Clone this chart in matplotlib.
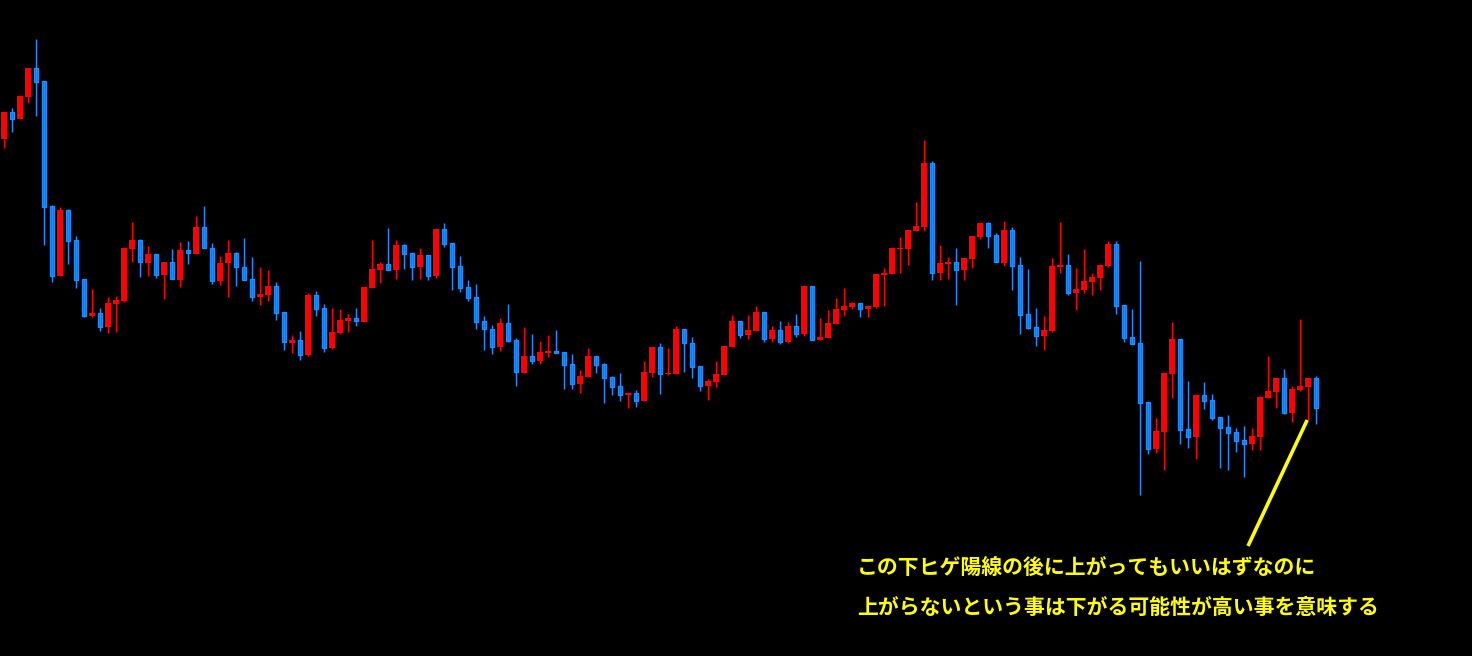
import matplotlib
matplotlib.use("Agg")
import matplotlib.pyplot as plt
import numpy as np

# OHLC levels read off the chart, measured downward from the top edge
# (smaller number = higher price), one candle per bar
opens = [138.7, 112, 119, 96.7, 68, 81, 206, 275.7, 210, 240, 279, 315.7, 313.3, 327.3, 303.7, 301, 248.7, 240.3, 262.7, 254.3,
         274.7, 262, 279.7, 250.3, 253.7, 227, 248.3, 281.3, 263.3, 253, 267, 279, 297.3, 294.7, 286, 312, 342.7, 340, 354.7, 295,
         308, 347.7, 333, 321, 318, 321.7, 287.7, 270, 264.3, 270, 245, 253, 266.7, 255, 275.7, 229, 243, 266, 287, 297,
         321.3, 329.3, 346.7, 323, 340, 372.7, 356, 360.7, 352.7, 351, 352, 364, 383.7, 376.7, 356, 364, 377, 386, 394.7, 393,
         400.7, 372.7, 347, 374, 373.7, 329, 343, 366, 385.7, 381.7, 375, 346.7, 321, 334.7, 330.7, 312, 338.7, 330, 341.7, 326,
         333.7, 286, 339.7, 337.7, 323.7, 310, 307, 303, 309, 307, 274.7, 274, 249, 249, 230.7, 227, 163, 272.7, 263.7, 262,
         269.7, 258.7, 236.7, 223, 235, 262.7, 230, 265, 314, 327, 335.7, 330.7, 266.7, 265, 292.7, 289.7, 281.7, 277.7, 265.7, 244,
         305, 337, 343, 402, 448.7, 431.7, 373.7, 339, 429, 436.7, 395, 400, 417, 427, 432, 440, 443.7, 437, 397.7, 391.7,
         378, 412.7, 389.7, 386.7, 378]
highs = [112, 108, 95, 68, 39, 81, 205, 207, 209, 236, 279, 289, 308, 296.7, 296, 248, 222, 239.3, 246, 254.3,
         262, 249, 242, 241, 216, 206, 243, 256, 240, 251.7, 238, 257, 267, 270, 282, 312, 335, 331, 293, 290.7,
         304, 308, 308.7, 314, 307.7, 287, 240, 262, 228, 240, 244, 253, 248, 255, 229, 223, 243, 256, 280, 284,
         316, 325.3, 318, 304, 338.3, 327, 334, 341, 335, 330, 352, 354, 370, 348, 356, 363, 376, 373, 393, 390,
         361, 347, 343, 348, 326, 329, 337, 366, 379, 361, 346, 315, 321, 315, 306, 312, 326, 321, 322, 314,
         285, 286, 318, 310, 298, 288, 302, 303, 305, 274, 268, 248, 237, 230, 202, 140, 161, 245, 257, 248,
         258, 236, 223, 222, 233, 221, 227, 257, 269, 308, 316, 258, 222, 254, 268, 249, 273, 265, 241, 241,
         305, 309, 261, 402, 418, 373, 322, 339, 381, 394, 382, 394, 417, 415, 428, 426, 428, 396, 356, 378,
         369, 386, 319, 378, 376]
lows = [147.7, 131.7, 119, 102.7, 115.7, 245, 281.7, 275.7, 263.7, 287.7, 317, 317, 330.7, 332.7, 331.7, 301.7, 261.7, 276.7, 275.7, 278,
        298.7, 279.3, 286.7, 263.7, 253.7, 248.3, 283.7, 284.7, 296.7, 285.7, 279.7, 300.7, 305, 300.7, 319.7, 350, 352.7, 360, 355.7, 316,
        351.7, 348.7, 333.7, 331.7, 326, 321.7, 287.7, 283, 269.7, 279, 269, 280, 279, 279.7, 277.7, 246.7, 290, 291.7, 300.7, 328.7,
        350, 353.7, 350.7, 341.7, 385.7, 372.7, 363.7, 363.7, 356.7, 353.3, 388.7, 388.7, 392.7, 376.7, 372.7, 402.7, 394.7, 400.7, 407.7, 406.7,
        400.7, 376.7, 393.7, 374.7, 373.7, 371.7, 377.7, 390.7, 399.7, 386.7, 375, 346.7, 337.7, 338.7, 330.7, 341.7, 341.7, 343.7, 342.7, 336.7,
        335.7, 339.7, 339.7, 337.7, 323.7, 315.7, 309, 316.7, 317, 308, 306, 274, 273, 265, 230.7, 230.7, 279.7, 279.7, 278.7, 304.7,
        279.7, 267.7, 238.7, 247.7, 262.3, 265.7, 289.7, 333.7, 328.7, 345.7, 349.7, 331.7, 272.7, 294.7, 309.7, 292.7, 294.7, 289.7, 266.7, 313.7,
        341.7, 343.7, 494.7, 453.7, 452.7, 469.7, 397.7, 443.7, 447.7, 458.7, 408.7, 419.7, 467.7, 469.7, 451.7, 476.7, 449.7, 449.7, 397.7, 407.7,
        413.7, 421.7, 390.7, 420, 423.7]
closes = [112, 118.7, 95.7, 68, 81.7, 206.7, 275.7, 210, 240.7, 279.7, 315.7, 313, 327.3, 303, 300, 248, 240, 262.3, 254, 274.7,
          262, 279.3, 250, 253.3, 227, 248.3, 281.3, 263, 253, 267.3, 279.7, 297.3, 294, 286, 312.7, 342.3, 340, 354.7, 295, 308.7,
          347.7, 332, 320, 317.7, 321.3, 287, 269, 264, 269.7, 245, 253.7, 266.7, 255, 275.7, 229, 243.7, 266.7, 287.7, 297.7, 321.7,
          329.3, 346.7, 323, 340.7, 372.3, 356, 360.7, 352, 351, 352.7, 364.7, 383.7, 376, 356, 364.7, 377.7, 386.7, 394.7, 393, 400.7,
          372, 347, 373.7, 373, 329, 343.3, 366.7, 385.7, 381, 374, 346, 321, 334.7, 330, 312, 338.7, 330, 341.7, 326, 333.7,
          286, 339.7, 337, 323, 309, 306, 303, 308.7, 306, 274, 273, 248, 247.7, 230, 226, 163, 272.7, 263, 262, 269.7,
          258, 236, 223, 235.7, 262.3, 230, 265.7, 314.7, 327.7, 335.7, 330, 266, 265, 292.7, 289, 281, 277, 265, 244, 305.7,
          337.7, 343.7, 402.7, 448.7, 431, 373, 339, 429.7, 436.7, 395, 400.7, 417.7, 427.7, 432.7, 440.7, 443.7, 436, 397, 391, 378,
          412.7, 389, 386, 378, 407.7]

note_lines = ["この下ヒゲ陽線の後に上がってもいいはずなのに",
              "上がらないという事は下がる可能性が高い事を意味する"]

o = np.array(opens)
h = np.array(highs)
l = np.array(lows)
c = np.array(closes)
x = np.arange(len(o))
up = c < o  # higher close = smaller level

fig = plt.figure(figsize=(14.72, 6.56), dpi=100, facecolor="black")
ax = fig.add_axes([0, 0, 1, 1])
ax.set_facecolor("black")
ax.set_axis_off()

red = "#FF0000"
blue_edge = "#1E90FF"
blue_face = "#3050FF"

# wicks
ax.vlines(x[up], h[up], l[up], color=red, lw=1.0)
ax.vlines(x[~up], h[~up], l[~up], color=blue_edge, lw=1.0)

# bodies
top = np.minimum(o, c)
height = np.maximum(np.abs(o - c), 1.0)
ax.bar(x[up], height[up], bottom=top[up], width=0.65, color=red, linewidth=0)
ax.bar(x[~up], height[~up], bottom=top[~up], width=0.55, color=blue_face,
       edgecolor=blue_edge, linewidth=0.9)

ax.set_xlim(-0.5, 183.5)
ax.set_ylim(656, 0)

# pointer to the lower-shadow candle
last = 163
ax.plot([last - 0.1, 155.5], [l[last], 546], color="#FFFF00", lw=2.6,
        solid_capstyle="butt")

for i, line in enumerate(note_lines):
    fig.text(857 / 1472, 1 - (567 + 40 * i) / 656, line, color="#FFFF00",
             fontsize=15, fontweight="bold", va="center", ha="left",
             family=["Noto Sans CJK JP", "DejaVu Sans"])

fig.savefig("out.png", dpi=100, facecolor="black")
